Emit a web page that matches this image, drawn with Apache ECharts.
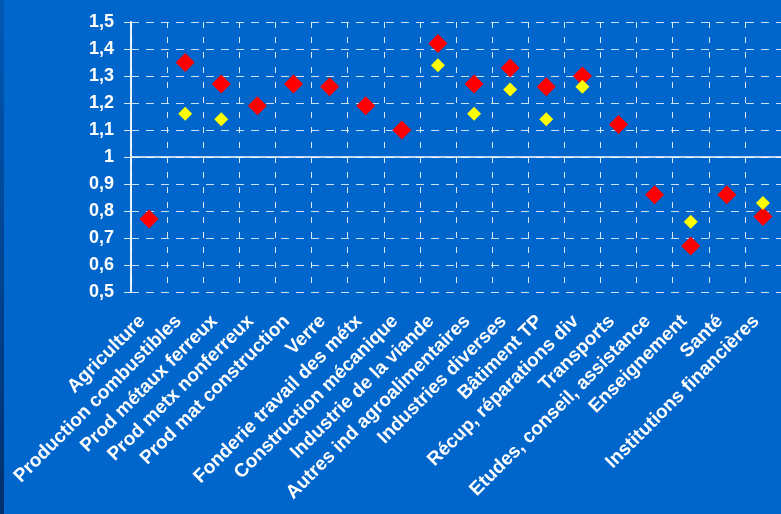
<!DOCTYPE html>
<html>
<head>
<meta charset="utf-8">
<script src="https://cdn.jsdelivr.net/npm/echarts@6/dist/echarts.min.js"></script>
<style>
html,body{margin:0;padding:0;background:#0066CC;}
#chart{width:781px;height:514px;}
</style>
</head>
<body>
<div id="chart"></div>
<script>
var categories = [
  "Agriculture",
  "Production combustibles",
  "Prod métaux ferreux",
  "Prod metx nonferreux",
  "Prod mat construction",
  "Verre",
  "Fonderie travail des métx",
  "Construction mécanique",
  "Industrie de la viande",
  "Autres ind agroalimentaires",
  "Industries diverses",
  "Bâtiment TP",
  "Récup, réparations div",
  "Transports",
  "Etudes, conseil, assistance",
  "Enseignement",
  "Santé",
  "Institutions financières"
];
var redValues = [0.77, 1.35, 1.27, 1.19, 1.27, 1.26, 1.19, 1.10, 1.42, 1.27, 1.33, 1.26, 1.30, 1.12, 0.86, 0.67, 0.86, 0.78];
var yellowValues = ['-', 1.16, 1.14, '-', '-', '-', '-', '-', 1.34, 1.16, 1.25, 1.14, 1.26, '-', '-', 0.76, '-', 0.83];
var yTickValues = [0.5, 0.6, 0.7, 0.8, 0.9, 1.0, 1.1, 1.2, 1.3, 1.4, 1.5];
var yTickLabels = ["0,5", "0,6", "0,7", "0,8", "0,9", "1", "1,1", "1,2", "1,3", "1,4", "1,5"];

var chart = echarts.init(document.getElementById('chart'));
var font = '"Liberation Sans", Arial, sans-serif';
chart.setOption({
  backgroundColor: '#0066CC',
  animation: false,
  graphic: [{
    type: 'rect',
    shape: {x: 0, y: 0, width: 4, height: 514},
    style: {fill: new echarts.graphic.LinearGradient(0, 0, 0, 1, [
      {offset: 0, color: '#0058B4'}, {offset: 1, color: '#00306E'}
    ])},
    silent: true
  }],
  grid: {left: 131, right: -6.5, top: 22, bottom: 222, containLabel: false},
  xAxis: {
    type: 'category',
    data: categories,
    boundaryGap: true,
    axisLine: {show: false},
    axisTick: {show: false},
    axisLabel: {
      interval: 0, rotate: 45, margin: 33, verticalAlign: 'bottom',
      color: '#FFFFFF', fontWeight: 'bold', fontSize: 19, fontFamily: font
    },
    splitLine: {
      show: true, interval: 0,
      lineStyle: {color: 'rgba(255,255,255,0.85)', width: 1, type: [6, 9]}
    }
  },
  yAxis: {
    type: 'value',
    min: 0.5, max: 1.5, interval: 0.1,
    axisLine: {show: true, lineStyle: {color: 'rgba(255,255,255,0.9)', width: 2}},
    axisTick: {show: true, length: 7, lineStyle: {color: 'rgba(255,255,255,0.85)'}},
    axisLabel: {
      margin: 17,
      color: '#FFFFFF', fontWeight: 'bold', fontSize: 18, fontFamily: font,
      formatter: function (v) {
        for (var i = 0; i < yTickValues.length; i++) {
          if (Math.abs(yTickValues[i] - v) < 1e-6) return yTickLabels[i];
        }
        return '';
      }
    },
    splitLine: {show: true, lineStyle: {color: 'rgba(255,255,255,0.8)', width: 1, type: [8, 7]}}
  },
  series: [
    {
      name: 'rouge',
      type: 'scatter',
      symbol: 'diamond',
      symbolSize: 19,
      itemStyle: {color: '#FF0000', opacity: 1},
      data: redValues,
      z: 3,
      markLine: {
        silent: true,
        symbol: ['none', 'none'],
        label: {show: false},
        lineStyle: {color: '#FFFFFF', width: 1.5, type: 'solid'},
        data: [{yAxis: 1}]
      }
    },
    {
      name: 'jaune',
      type: 'scatter',
      symbol: 'diamond',
      symbolSize: 14,
      itemStyle: {color: '#FFFF00', opacity: 1},
      data: yellowValues,
      z: 4
    }
  ]
});
</script>
</body>
</html>
